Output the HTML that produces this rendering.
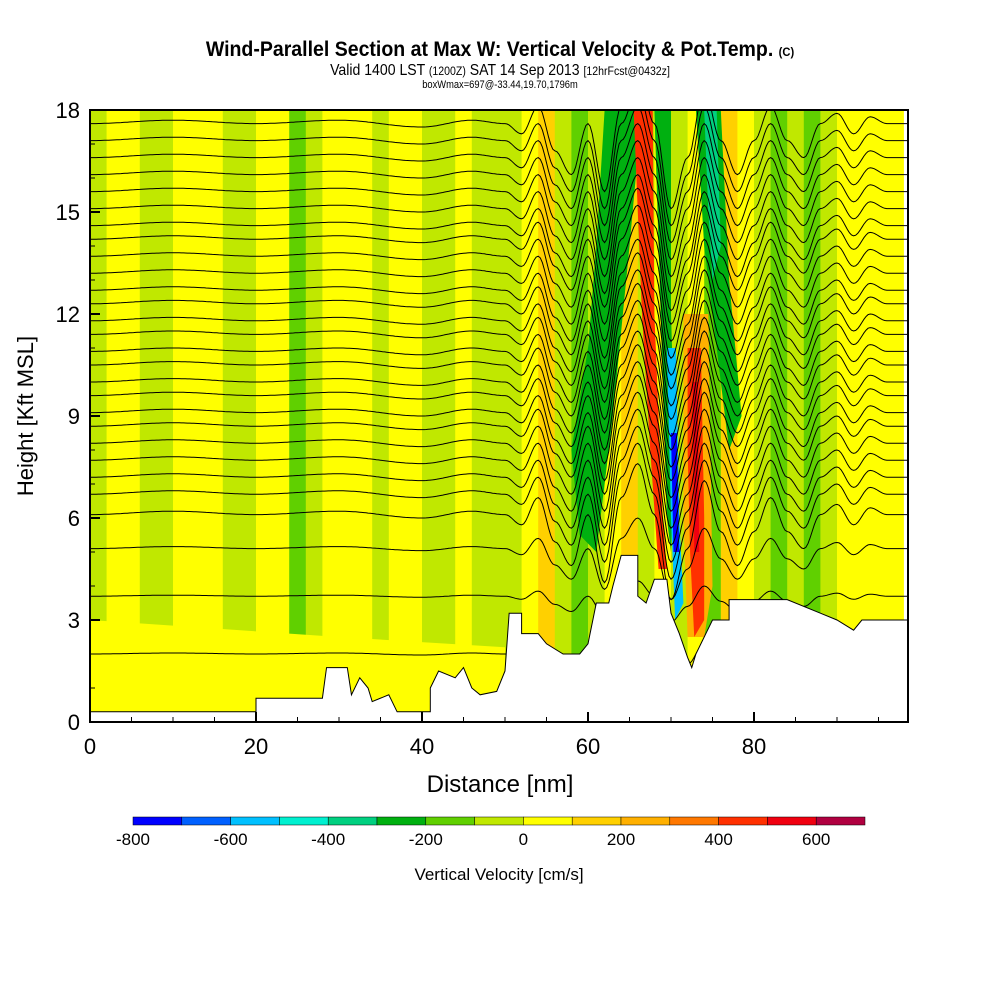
<!DOCTYPE html>
<html><head><meta charset="utf-8"><style>
body{margin:0;background:#fff;width:1000px;height:1000px;overflow:hidden}
svg text{font-family:"Liberation Sans",sans-serif}
</style></head><body>
<svg id="chart" width="1000" height="1000" viewBox="0 0 1000 1000">
<defs><clipPath id="plotclip"><rect x="90" y="110" width="818" height="612"/></clipPath></defs>
<text x="500" y="56" text-anchor="middle" font-size="21" font-weight="bold" transform="translate(500,0) scale(0.93,1) translate(-500,0)">Wind-Parallel Section at Max W: Vertical Velocity &amp; Pot.Temp. <tspan font-size="12">(C)</tspan></text>
<text x="500" y="75" text-anchor="middle" font-size="16" transform="translate(500,0) scale(0.88,1) translate(-500,0)">Valid 1400 LST <tspan font-size="12">(1200Z)</tspan> SAT 14 Sep 2013 <tspan font-size="12">[12hrFcst@0432z]</tspan></text>
<text x="500" y="88" text-anchor="middle" font-size="11" transform="translate(500,0) scale(0.85,1) translate(-500,0)">boxWmax=697@-33.44,19.70,1796m</text>
<g id="plot" clip-path="url(#plotclip)"></g>
<rect x="90" y="110" width="818" height="612" fill="none" stroke="#000" stroke-width="2"/>
<g id="axes"></g>
<text x="500" y="792" text-anchor="middle" font-size="24">Distance [nm]</text>
<text x="33" y="416" text-anchor="middle" font-size="22" transform="rotate(-90 33 416)">Height [Kft MSL]</text>
<g id="cbar"></g>
<text x="499" y="880" text-anchor="middle" font-size="17">Vertical Velocity [cm/s]</text>
</svg>
<script>
const NS="http://www.w3.org/2000/svg";
// ---- data ----
const cbLevels=[-800,-700,-600,-500,-400,-300,-200,-100,0,100,200,300,400,500,600,700];
const cbColors=["#0000ff","#0060ff","#00c0ff","#00f0d0","#00d080","#00b010","#60d000","#c0e800","#ffff00","#ffd000","#ffb000","#ff7800","#ff3000","#f00010","#b00040"];
const cbTicks=[-800,-600,-400,-200,0,200,400,600];
const xTicks=[0,20,40,60,80];
const yTicks=[0,3,6,9,12,15,18];
const stripeValues=[-50,50,50,-50,-50,50,50,50,-50,-50,50,50,-150,-50,50,50,50,-50,50,50,-50,-50,50,-50,-50,-50,50,150,-50,-150,-50,50,150,-50,50,-50,50,-150,150,50,-50,-150,-50,-150,-50,50,50,50,50];
const bandValues=[50,-250,450,-250,250,-550,-750,450,550,-250,-350];
const bandShapes=[
[[0,0],[50,0],[50,2.2],[30,2.5],[0,3]],
[[59,5.5],[61,5],[63,9],[65,14],[66.5,18],[62,18],[61,14],[60,11],[58,8]],
[[66,18],[67.8,18],[68,12],[69,6],[69.5,4.5],[68.5,4.5],[67.5,8],[66.5,12],[65.5,18]],
[[68,18],[70,18],[70,12],[70.5,8],[70,5],[69.5,6],[69,10],[68.5,14]],
[[71.5,12],[74.5,12],[75,4],[74,2.5],[72,2.5],[71.5,6]],
[[69.5,11],[70.6,11],[71,6],[71.5,3.5],[70.5,3],[70,6]],
[[70,8.5],[70.7,8.5],[71,5],[70.3,5]],
[[72,11],[73.6,11],[74,6],[74,3],[72.8,2.5],[72.3,5],[72,8]],
[[72.6,10],[73.2,10],[73.4,5],[72.8,5]],
[[73,18],[76,18],[77,13],[78.5,9],[77,8],[75.5,11],[74,14]],
[[74,18],[75.5,18],[76,14],[75,13],[74.5,15]]
];
const thetaLevels=[2.0,3.7,5.1,6.1,6.7,7.2,7.7,8.2,8.7,9.1,9.6,10.0,10.5,10.9,11.4,11.8,12.3,12.7,13.2,13.7,14.2,14.6,15.1,15.6,16.1,16.6,17.1,17.6];
const waveX=[0,10,20,30,40,46,50,52,54,56,58,60,62,64,66,68,70,72,74,76,78,80,82,84,86,88,90,92,94,96,99];
const waveDisp=[0,0.1,0,0.1,-0.1,0.1,0,-0.3,0.5,-0.8,-1.5,0,-2,0.5,1.5,0,-2.5,-1,1,-0.5,-1.5,-0.5,0.5,-0.5,-1,0,0.3,-0.3,0.2,0,0];
const terrX=[0,20,20,28,28.5,31,31.5,32.5,33.5,34,36,37,41,41,42,44,45,46,47,49,50,50.5,52,52,54,55,57,59,60,61,62.5,63,64,66,66,67,68,69.5,70,71,72,72.5,73,74,75,77,77,80,84,88,90,92,92,93,99];
const terrH=[0.3,0.3,0.7,0.7,1.6,1.6,0.8,1.3,1.0,0.6,0.8,0.3,0.3,1.0,1.5,1.3,1.6,1.0,0.8,0.9,1.5,3.2,3.2,2.6,2.6,2.3,2.0,2.0,2.3,3.5,3.5,4.0,4.9,4.9,3.7,3.5,4.2,4.2,3.2,2.6,1.9,1.6,2.0,2.5,3.0,3.0,3.6,3.6,3.6,3.2,3.0,2.7,2.7,3.0,3.0];
// ---- scales ----
const X=d=>90+d*8.3, Y=h=>722-h*34;
const colorOf=v=>{let i=cbColors.length-1;for(let k=0;k<cbColors.length;k++){if(v<cbLevels[k+1]){i=k;break;}}return cbColors[Math.max(0,i)];};
const plot=document.getElementById('plot');
function mk(tag,attrs,parent){const e=document.createElementNS(NS,tag);for(const k in attrs)e.setAttribute(k,attrs[k]);parent.appendChild(e);return e;}
stripeValues.forEach((v,i)=>{
 const r=mk('rect',{x:X(i*2),y:110,width:X(2)-X(0)+0.5,height:612,fill:colorOf(v)},plot);
 
 
});
bandShapes.forEach((pts,i)=>{
 const p=mk('polygon',{points:pts.map(q=>X(q[0])+','+Y(q[1])).join(' '),fill:colorOf(bandValues[i])},plot);
 
 
});
function wave(x){for(let i=0;i<waveX.length-1;i++){if(x<=waveX[i+1]){const t=(x-waveX[i])/(waveX[i+1]-waveX[i]);const s=(1-Math.cos(Math.PI*t))/2;return waveDisp[i]*(1-s)+waveDisp[i+1]*s;}}return 0;}
thetaLevels.forEach(lv=>{
 const amp=lv<4?0.3:(lv<6?0.6:1);
 let d='';
 for(let x=0;x<=99;x+=0.25){const h=lv+wave(x)*amp;d+=(x?'L':'M')+X(x).toFixed(1)+','+Y(h).toFixed(1);}
 const p=mk('path',{d:d,fill:'none',stroke:'#000','stroke-width':1},plot);
 
 
});
let td='M'+X(0)+','+Y(0);
terrX.forEach((x,i)=>{td+='L'+X(x)+','+Y(terrH[i]);});
td+='L'+X(99)+','+Y(0)+'Z';
const ter=mk('path',{d:td,fill:'#fff',stroke:'#000','stroke-width':1},plot);


const ax=document.getElementById('axes');
xTicks.forEach(t=>{
 mk('line',{x1:X(t),x2:X(t),y1:722,y2:712,stroke:'#000','stroke-width':2},ax);
 const tx=mk('text',{x:X(t),y:754,'text-anchor':'middle','font-size':22},ax);tx.textContent=t;
 
 
});
for(let t=5;t<99;t+=5){mk('line',{x1:X(t),x2:X(t),y1:722,y2:717,stroke:'#000'},ax);}
yTicks.forEach(t=>{
 mk('line',{x1:90,x2:100,y1:Y(t),y2:Y(t),stroke:'#000','stroke-width':2},ax);
 const tx=mk('text',{x:80,y:Y(t)+8,'text-anchor':'end','font-size':22},ax);tx.textContent=t;
 
 
});
for(let t=1;t<18;t++){if(t%3)mk('line',{x1:90,x2:95,y1:Y(t),y2:Y(t),stroke:'#000'},ax);}
const cb=document.getElementById('cbar');
const CX=v=>133+(v+800)*48.8/100;
for(let i=0;i<cbColors.length;i++){
 const r=mk('rect',{x:CX(cbLevels[i]),y:817,width:48.8,height:8,fill:cbColors[i],stroke:'#000','stroke-width':0.5},cb);
 
 
}
cbTicks.forEach(t=>{
 const tx=mk('text',{x:CX(t),y:845,'text-anchor':'middle','font-size':17},cb);tx.textContent=t;
 
 
});
</script>
</body></html>
